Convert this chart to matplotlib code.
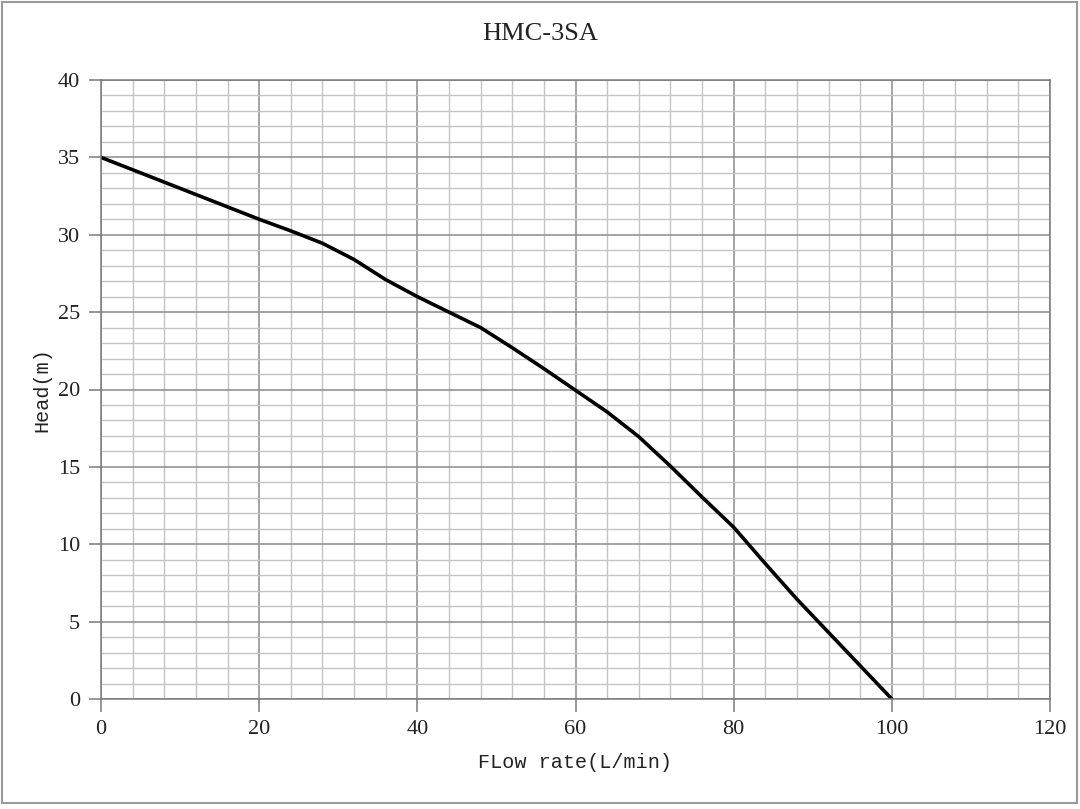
import matplotlib
matplotlib.use("Agg")
import matplotlib.pyplot as plt
from matplotlib.patches import Rectangle
from matplotlib.ticker import MultipleLocator

# Data
flow = [0, 4, 8, 12, 16, 20, 24, 28, 32, 36, 40, 44, 48, 52, 56, 60,
        64, 68, 72, 76, 80, 84, 88, 92, 96, 100]
head = [35.0, 34.2, 33.4, 32.6, 31.8, 31.0, 30.25, 29.45, 28.4, 27.1, 26.0,
        25.0, 24.0, 22.7, 21.35, 19.95, 18.55, 16.95, 15.05, 13.05, 11.1, 8.75,
        6.45, 4.3, 2.15, 0.0]
x_ticks = [0, 20, 40, 60, 80, 100, 120]
y_ticks = [0, 5, 10, 15, 20, 25, 30, 35, 40]
title = "HMC-3SA"
xlabel = "FLow rate(L/min)"
ylabel = "Head(m)"

serif = ["Liberation Serif", "DejaVu Serif"]
mono = ["Liberation Mono", "DejaVu Sans Mono"]

fig = plt.figure(figsize=(10.8, 8.09), dpi=100)
fig.patches.append(Rectangle((1.5 / 1080, 6 / 809), 1075.5 / 1080, 801 / 809,
                             transform=fig.transFigure, fill=False,
                             edgecolor="#9a9a9a", linewidth=1.5))

ax = fig.add_axes([101 / 1080, 110 / 809, 949 / 1080, 619 / 809])
ax.set_xlim(0, 120)
ax.set_ylim(0, 40)
ax.set_xticks(x_ticks)
ax.set_yticks(y_ticks)
ax.xaxis.set_minor_locator(MultipleLocator(4))
ax.yaxis.set_minor_locator(MultipleLocator(1))
ax.grid(which="major", color="#8c8c8c", linewidth=1.1)
ax.grid(which="minor", color="#c4c4c4", linewidth=1.0)
ax.set_axisbelow(True)
for s in ax.spines.values():
    s.set_color("#7a7a7a")
    s.set_linewidth(1.1)
ax.tick_params(which="major", direction="out", length=9, width=1.1,
               color="#7a7a7a", pad=6, labelsize=16, labelcolor="#222222")
ax.tick_params(which="minor", length=0)
for lab in ax.get_xticklabels() + ax.get_yticklabels():
    lab.set_fontfamily(serif)

ax.plot(flow, head, color="black", linewidth=2.6, solid_capstyle="round")

fig.text(0.5, 1 - 34 / 809, title, fontsize=19, family=serif,
         color="#222222", ha="center", va="center")
fig.text(575 / 1080, 1 - 763 / 809, xlabel, fontsize=14.5, family=mono,
         color="#222222", ha="center", va="center")
fig.text(42 / 1080, 1 - 390 / 809, ylabel, fontsize=14.5, family=mono,
         color="#222222", ha="center", va="center", rotation=90)

fig.savefig("out.png", dpi=100)
